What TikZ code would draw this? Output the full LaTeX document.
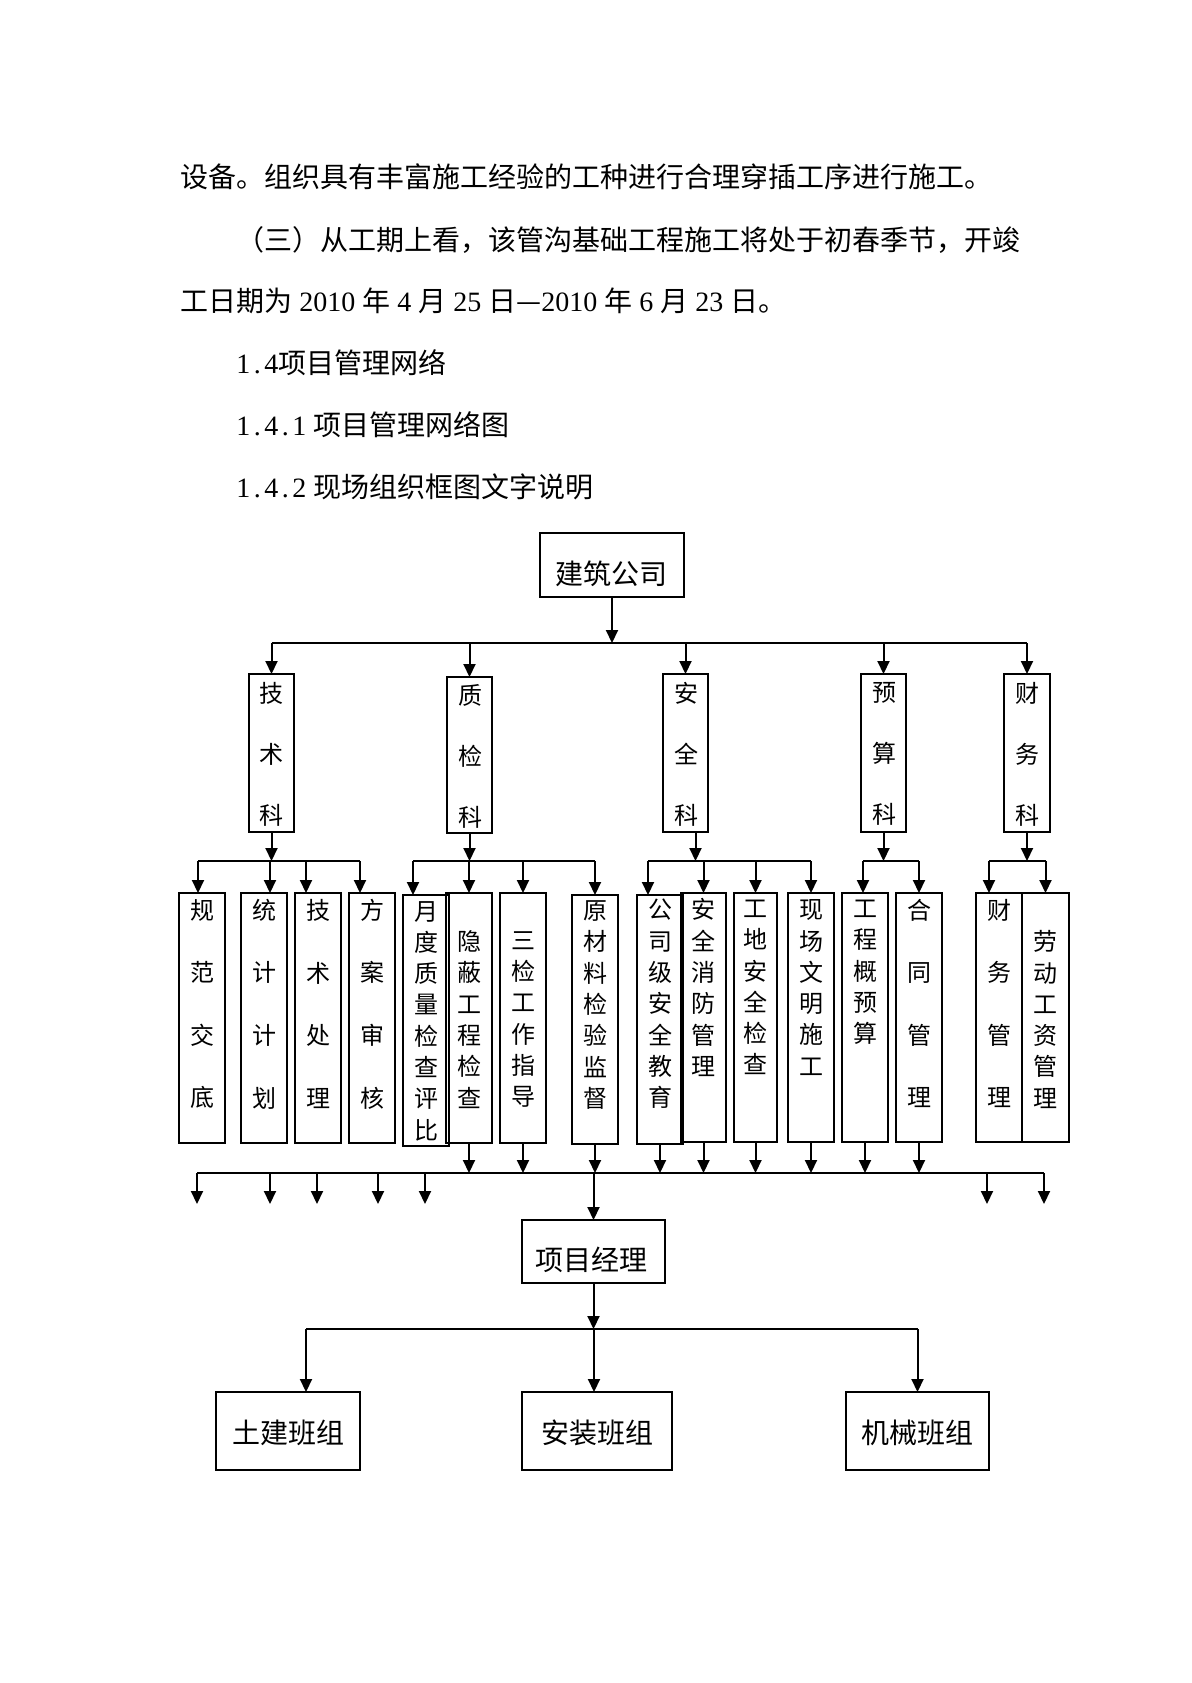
\documentclass[tikz,border=0pt]{standalone}
\usepackage{fontspec}
\setmainfont{Liberation Serif}
\newfontfamily\cjk{Noto Sans CJK SC}
\usetikzlibrary{arrows.meta}
\newcommand\bx[5]{\node[box, minimum width={(#4-#2)*0.5pt}, minimum height={(#5-#3)*0.5pt}] (#1) at ({(#2+#4)/2},{(#3+#5)/2}) {};}
\newcommand\hw[1]{\makebox[7pt]{#1}}
\newcommand\dd{\\[15.65pt]}
\newcommand\kk{\\[14.85pt]}
\begin{document}
\begin{tikzpicture}[x=0.5pt,y=-0.5pt,
  box/.style={draw, line width=0.6pt, inner sep=0pt, outer sep=0pt},
  arr/.style={line width=1pt, -{Triangle[length=6.5pt,width=6pt]}},
  bus/.style={line width=0.9pt},
  para/.style={anchor=base west, inner sep=0pt, font=\fontsize{14pt}{16pt}\selectfont},
  lbl/.style={inner sep=0pt, font=\cjk\fontsize{14pt}{16pt}\selectfont},
  vt/.style={inner sep=0pt, align=center, font=\cjk\fontsize{12pt}{15.65pt}\selectfont},
]
\useasboundingbox[fill=white] (0,0) rectangle (1191,1683);

% ---------------- paragraph text ----------------
\node[para] (p1) at (180,187) {\cjk 设备。组织具有丰富施工经验的工种进行合理穿插工序进行施工。};
\node[para] (p2) at (236,250) {\cjk （三）从工期上看，该管沟基础工程施工将处于初春季节，开竣};
\node[para] (p3) at (180,311) {{\cjk 工日期为} 2010 {\cjk 年} 4 {\cjk 月} 25 {\cjk 日—}2010 {\cjk 年} 6 {\cjk 月} 23 {\cjk 日。}};
\node[para] (p4) at (236,373) {\hw{1}\hw{.}\hw{4}{\cjk 项目管理网络}};
\node[para] (p5) at (236,435) {\hw{1}\hw{.}\hw{4}\hw{.}\hw{1} {\cjk 项目管理网络图}};
\node[para] (p6) at (236,497) {\hw{1}\hw{.}\hw{4}\hw{.}\hw{2} {\cjk 现场组织框图文字说明}};

% ---------------- top box ----------------
\bx{gs}{540}{533}{684}{597}
\node[lbl] (gst) at (611,574) {建筑公司};

% ---------------- section boxes ----------------
\bx{k1}{249}{674}{294}{832}
\bx{k2}{447}{677}{492}{833}
\bx{k3}{663}{674}{708}{832}
\bx{k4}{861}{674}{906}{832}
\bx{k5}{1004}{674}{1050}{832}
\node[vt] (k1t) at (271,754) {技\kk 术\kk 科};
\node[vt] (k2t) at (470,756) {质\kk 检\kk 科};
\node[vt] (k3t) at (686,754) {安\kk 全\kk 科};
\node[vt] (k4t) at (884,754) {预\kk 算\kk 科};
\node[vt] (k5t) at (1027,754) {财\kk 务\kk 科};

% ---------------- third row boxes ----------------
\bx{r1}{179}{893}{225}{1143}
\bx{r2}{241}{893}{287}{1143}
\bx{r3}{295}{893}{341}{1143}
\bx{r4}{349}{893}{395}{1143}
\bx{r5}{403}{895}{449}{1146}
\bx{r6}{446}{893}{492}{1143}
\bx{r7}{500}{893}{546}{1143}
\bx{r8}{572}{895}{618}{1144}
\bx{r9}{637}{895}{683}{1144}
\bx{r10}{681}{893}{726}{1142}
\bx{r11}{734}{893}{777}{1142}
\bx{r12}{788}{893}{834}{1142}
\bx{r13}{842}{893}{888}{1142}
\bx{r14}{896}{893}{942}{1142}
\bx{r15}{976}{893}{1022}{1142}
\bx{r16}{1022}{893}{1069}{1142}

\node[vt] (r1t) at (202,1004) {规\dd 范\dd 交\dd 底};
\node[vt] (r2t) at (264,1004) {统\dd 计\dd 计\dd 划};
\node[vt] (r3t) at (318,1004) {技\dd 术\dd 处\dd 理};
\node[vt] (r4t) at (372,1004) {方\dd 案\dd 审\dd 核};
\node[vt] (r5t) at (426,1021) {月\\度\\质\\量\\检\\查\\评\\比};
\node[vt] (r6t) at (469,1019.5) {隐\\蔽\\工\\程\\检\\查};
\node[vt] (r7t) at (523,1019.5) {三\\检\\工\\作\\指\\导};
\node[vt] (r8t) at (595,1005) {原\\材\\料\\检\\验\\监\\督};
\node[vt] (r9t) at (660,1004) {公\\司\\级\\安\\全\\教\\育};
\node[vt] (r10t) at (703.5,987.5) {安\\全\\消\\防\\管\\理};
\node[vt] (r11t) at (755.5,987.5) {工\\地\\安\\全\\检\\查};
\node[vt] (r12t) at (811,987.5) {现\\场\\文\\明\\施\\工};
\node[vt] (r13t) at (865,972.5) {工\\程\\概\\预\\算};
\node[vt] (r14t) at (919,1003.5) {合\dd 同\dd 管\dd 理};
\node[vt] (r15t) at (999,1003.5) {财\dd 务\dd 管\dd 理};
\node[vt] (r16t) at (1045.5,1019.5) {劳\\动\\工\\资\\管\\理};

% ---------------- manager and teams ----------------
\bx{pm}{522}{1220}{665}{1283}
\node[lbl] (pmt) at (591,1260) {项目经理};
\bx{g1}{216}{1392}{360}{1470}
\bx{g2}{522}{1392}{672}{1470}
\bx{g3}{846}{1392}{989}{1470}
\node[lbl] (g1t) at (288,1433) {土建班组};
\node[lbl] (g2t) at (597,1433) {安装班组};
\node[lbl] (g3t) at (917,1433) {机械班组};

% ---------------- level coordinates ----------------
\coordinate (L1) at (0,643);
\coordinate (L2) at (0,861);
\coordinate (L3) at (0,1173);
\coordinate (L4) at (0,1329);

% company -> sections
\draw[arr] (gs.south) -- (gs.south |- L1);
\draw[bus] (k1.north |- L1) -- (k5.north |- L1);
\foreach \k in {k1,k2,k3,k4,k5} \draw[arr] (\k.north |- L1) -- (\k.north);

% sections -> bus level 2
\draw[arr] (k1.south) -- (k1.south |- L2);
\draw[arr] (k2.south) -- (k2.south |- L2);
\draw[arr] ([xshift=5pt]k3.south) -- ([xshift=5pt]k3.south |- L2);
\draw[arr] (k4.south) -- (k4.south |- L2);
\draw[arr] (k5.south) -- (k5.south |- L2);

% bus segments level 2
\draw[bus] ([xshift=-2pt]r1.north |- L2) -- ([xshift=-6pt]r4.north |- L2);
\draw[bus] ([xshift=-6.5pt]r5.north |- L2) -- (r8.north |- L2);
\draw[bus] ([xshift=-6pt]r9.north |- L2) -- (r12.north |- L2);
\draw[bus] ([xshift=-1pt]r13.north |- L2) -- (r14.north |- L2);
\draw[bus] ([xshift=-5pt]r15.north |- L2) -- (r16.north |- L2);

% bus level 2 -> third row
\draw[arr] ([xshift=-2pt]r1.north |- L2) -- ([xshift=-2pt]r1.north);
\draw[arr] ([xshift=3pt]r2.north |- L2) -- ([xshift=3pt]r2.north);
\draw[arr] ([xshift=-6pt]r3.north |- L2) -- ([xshift=-6pt]r3.north);
\draw[arr] ([xshift=-6pt]r4.north |- L2) -- ([xshift=-6pt]r4.north);
\draw[arr] ([xshift=-6.5pt]r5.north |- L2) -- ([xshift=-6.5pt]r5.north);
\draw[arr] (r6.north |- L2) -- (r6.north);
\draw[arr] (r7.north |- L2) -- (r7.north);
\draw[arr] (r8.north |- L2) -- (r8.north);
\draw[arr] ([xshift=-6pt]r9.north |- L2) -- ([xshift=-6pt]r9.north);
\draw[arr] (r10.north |- L2) -- (r10.north);
\draw[arr] (r11.north |- L2) -- (r11.north);
\draw[arr] (r12.north |- L2) -- (r12.north);
\draw[arr] ([xshift=-1pt]r13.north |- L2) -- ([xshift=-1pt]r13.north);
\draw[arr] (r14.north |- L2) -- (r14.north);
\draw[arr] ([xshift=-5pt]r15.north |- L2) -- ([xshift=-5pt]r15.north);
\draw[arr] (r16.north |- L2) -- (r16.north);

% third row -> bus level 3
\foreach \r in {r6,r7,r8,r9,r10,r11,r12,r13,r14} \draw[arr] (\r.south) -- (\r.south |- L3);

% bus level 3 and its free arrows
\coordinate (o1) at (197,1204);
\coordinate (o2) at (270,1204);
\coordinate (o3) at (317,1204);
\coordinate (o4) at (378,1204);
\coordinate (o5) at (425,1204);
\coordinate (o6) at (987,1204);
\coordinate (o7) at (1044,1204);
\draw[bus] (o1 |- L3) -- (o7 |- L3);
\foreach \o in {o1,o2,o3,o4,o5,o6,o7} \draw[arr] (\o |- L3) -- (\o);

% bus level 3 -> manager
\draw[arr] (pm.north |- L3) -- (pm.north);

% manager -> teams
\draw[arr] (pm.south) -- (pm.south |- L4);
\draw[bus] ([xshift=9pt]g1.north |- L4) -- (g3.north |- L4);
\draw[arr] ([xshift=9pt]g1.north |- L4) -- ([xshift=9pt]g1.north);
\draw[arr] ([xshift=-1.5pt]g2.north |- L4) -- ([xshift=-1.5pt]g2.north);
\draw[arr] (g3.north |- L4) -- (g3.north);
\end{tikzpicture}
\end{document}
